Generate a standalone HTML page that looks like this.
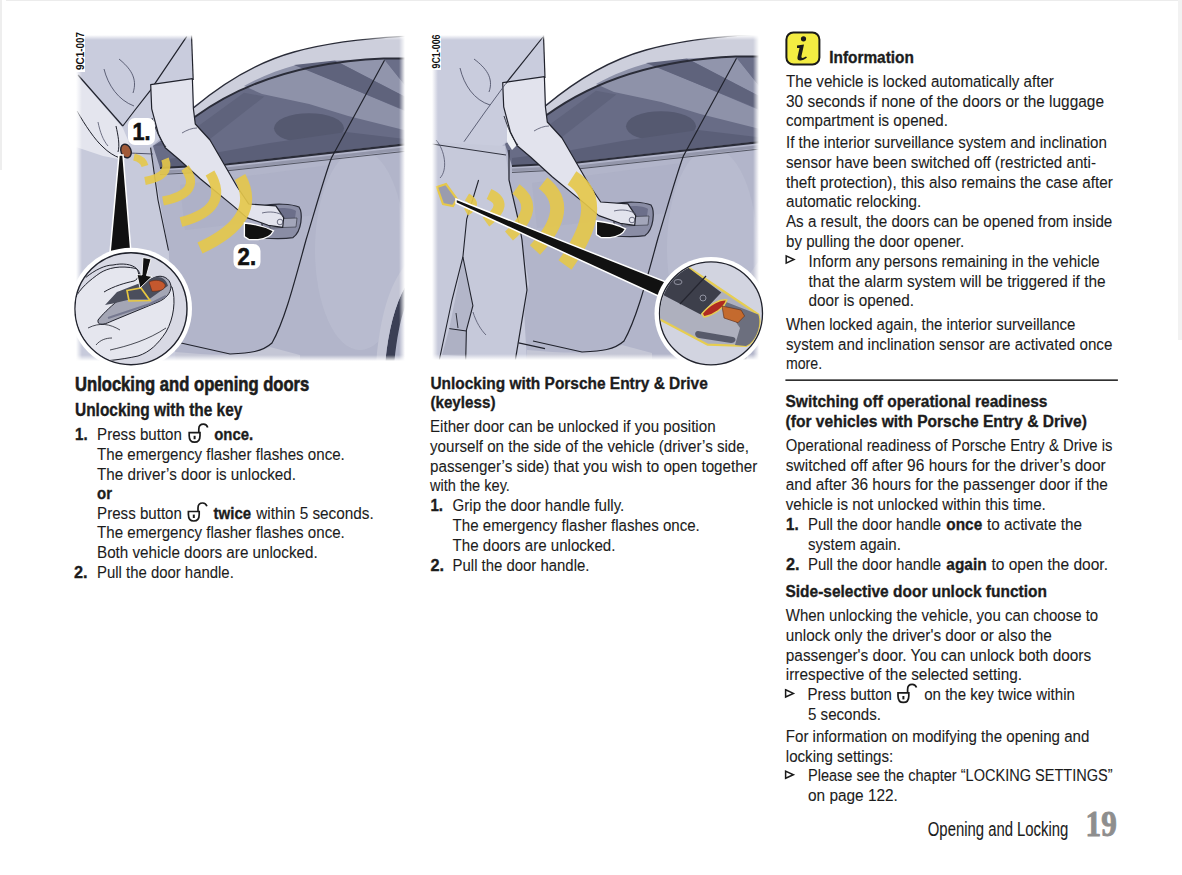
<!DOCTYPE html>
<html><head><meta charset="utf-8">
<style>
html,body{margin:0;padding:0;background:#fff;width:1182px;height:875px;overflow:hidden}
svg{position:absolute;left:0;top:0;display:block}
text{font-family:"Liberation Sans",sans-serif;fill:#1c1c1c}
.n{font-weight:400;stroke:#1c1c1c;stroke-width:0.1px}
.b{font-weight:700;stroke:#1c1c1c;stroke-width:0.35px}
.h{font-weight:700;stroke:#1c1c1c;stroke-width:0.6px}
.lbl{font-weight:700;fill:#111;stroke:#111;stroke-width:0.6px}
.lblr{font-weight:700;fill:#111}
.pg{font-family:"Liberation Serif",serif;font-weight:700;fill:#8e8e8e;stroke:#8e8e8e;stroke-width:0.9px}
</style></head>
<body>
<svg width="1182" height="875" viewBox="0 0 1182 875">
<defs>
<clipPath id="clip1"><rect x="76" y="35" width="329" height="326"/></clipPath>
<clipPath id="clip2"><rect x="432" y="35" width="327" height="325"/></clipPath>
<linearGradient id="gL" x1="0" x2="1" y1="0" y2="0"><stop offset="0" stop-color="#fff" stop-opacity="1"/><stop offset="1" stop-color="#fff" stop-opacity="0"/></linearGradient>
<linearGradient id="gR" x1="1" x2="0" y1="0" y2="0"><stop offset="0" stop-color="#fff" stop-opacity="1"/><stop offset="1" stop-color="#fff" stop-opacity="0"/></linearGradient>
<linearGradient id="gT" x1="0" x2="0" y1="0" y2="1"><stop offset="0" stop-color="#fff" stop-opacity="1"/><stop offset="1" stop-color="#fff" stop-opacity="0"/></linearGradient>
<linearGradient id="gB" x1="0" x2="0" y1="1" y2="0"><stop offset="0" stop-color="#fff" stop-opacity="1"/><stop offset="1" stop-color="#fff" stop-opacity="0"/></linearGradient>
<clipPath id="cc1"><circle cx="131" cy="308.7" r="55.3"/></clipPath>
<clipPath id="cc2"><circle cx="711" cy="313.4" r="50.8"/></clipPath>
</defs>
<rect x="0" y="0" width="2" height="170" fill="#eeeeee"/>
<rect x="6" y="0" width="1176" height="1" fill="#ececec"/>
<rect x="1178" y="0" width="4" height="340" fill="#f2f2f2"/>

<g clip-path="url(#clip1)">
  <rect x="70" y="30" width="345" height="340" fill="#c9ccdd"/>
  <path d="M191.5,30 L410,30 L410,36 C320,44 240,72 193.7,107.7 Z" fill="#ffffff"/>
  
<g transform="translate(0,0)">
  <path d="M150,148 L194,106 C240,72 320,44 408,36 L408,365 L175,365 L168.5,250 Z" fill="#b2b5ca"/>
  <ellipse cx="360" cy="250" rx="45" ry="100" fill="#bcbfd2" opacity="0.6"/>
  <path d="M180,185 L330,165 L315,215 L185,230 Z" fill="#aaaec4" opacity="0.5"/>
  <!-- sill -->
  <path d="M175,352 C220,356 250,356 270,347 L300,355 L300,365 L175,365 Z" fill="#c4c6d5"/>
  <!-- roof strip -->
  <path d="M193.7,107.7 C222,84 258,62 294,52 C330,42 370,38 408,36 L408,58.4 L383.6,58.4 C300,62 240,84 194.7,117 Z" fill="#cdcfdc"/>
  <path d="M193.7,107.7 C222,84 258,62 294,52 C330,42 370,38 408,36" fill="none" stroke="#2a2c38" stroke-width="1.3"/>
  <!-- window -->
  <path d="M153,146 L194.7,117 C240,84 300,62 383.6,58.4 L408,58.4 L408,143 L225.4,163.5 L160,168 Z" fill="#686c86"/>
  <path d="M244,86 C262,76 278,70 296,65 L405.9,111.4 L408,131 L348.2,116 L309.1,104 L262,94 Z" fill="#8e92a9"/>
  <path d="M335,60.5 L383.6,58.4 L408,89 L408,98.4 Z" fill="#9195ac"/>
  <path d="M383.6,58.4 L408,58.4 L408,89 Z" fill="#6a6e88"/>
  <path d="M294,65 L335,60.5 L408,98.4 L408,111.4 Z" fill="#5f637c"/>
  <path d="M153,146 L195.6,128 L244,92.8 L264.4,96.5 L204.9,143 Z" fill="#5f637c"/>
  <ellipse cx="309" cy="128.2" rx="35" ry="15" fill="#555970"/>
  <path d="M160,160 L208.6,154 L270,143 L346.3,131.9 L408,139.3 L408,143 L225.4,163.5 L160,168 Z" fill="#5b5f78"/>
  <path d="M194.7,117 C240,84 300,62 383.6,58.4 L408,58.4" fill="none" stroke="#2a2c38" stroke-width="2"/>
  <path d="M160,168 L225.4,164.5 L408,144" fill="none" stroke="#2a2c38" stroke-width="2.2"/>
  <path d="M160,172 L225.4,169 L408,148.5" fill="none" stroke="#9497ab" stroke-width="3"/>
  <path d="M160,174.5 L225.4,171 L408,151" fill="none" stroke="#3a3c48" stroke-width="0.8"/>
  <!-- door line -->
  <path d="M384.5,60.2 L331.4,158 C325,175 318,200 306,240 C295,280 285,320 272,343 C262,352 250,353 230,354 L181,343" fill="none" stroke="#20222c" stroke-width="1.2"/>
  <!-- door handle -->
  <path d="M262,206 C275,203 292,204 299,207 C303,213 302,231 293,237.6 C285,239 275,239 262,238 Z" fill="#8a8da5" stroke="#2a2c38" stroke-width="1.2"/>
  <path d="M272,209 C282,207 292,208 296,211 L295,218 L272,219 Z" fill="#6c6f8a"/>
  <path d="M270,219 L297,218 L296,227 L270,228 Z" fill="#a3a6ba" stroke="#3a3c48" stroke-width="0.7"/>
  <!-- wheel arch -->
  <path d="M408,282 C396,300 388,330 385,365 L394,365 C397,335 401,315 408,300 Z" fill="#3b3f55"/>
  <path d="M408,262 C390,282 380,315 376,365 L385,365 C388,330 396,300 408,282 Z" fill="#c3c5d5"/>
</g>
  <!-- body side line region lighter left -->
  <path d="M70,150 L150.6,147.7 L168.5,250.5 L176,365 L70,365 Z" fill="#c7cadb"/>
  <path d="M150.6,147.7 L158,200 L168.5,250.5" fill="none" stroke="#20222c" stroke-width="1.1"/>
  <path d="M76.4,145.2 L102,149.2 L129,153 L153,154" fill="none" stroke="#50536a" stroke-width="1"/>
  <!-- shirt lines & raised left arm -->
  <path d="M76,74 L122.8,128 L128,140 L131,153 L124,160 L103,156 L76,147 Z" fill="#e4e5ee"/>
  <path d="M78,75 L122.8,126" fill="none" stroke="#20222c" stroke-width="1.2"/>
  <path d="M186.8,36.4 L150,90.8 L135,110 L122.8,126" fill="none" stroke="#20222c" stroke-width="1.2"/>
  <path d="M191.5,35 L193.2,80" fill="none" stroke="#20222c" stroke-width="1.2"/>
  <path d="M119,59 C130,68 138,78 133,93" fill="none" stroke="#50536a" stroke-width="0.9"/>
  <path d="M104,69 C108,85 118,100 134,106" fill="none" stroke="#50536a" stroke-width="0.9"/>
  <path d="M77,111 C85,125 95,140 103,147 C108,152 114,156 120,158" fill="none" stroke="#20222c" stroke-width="1"/>
  <path d="M116,126 C118,135 120,145 118,152" fill="none" stroke="#20222c" stroke-width="1"/>
  <path d="M98,122 C100,132 103,140 108,146" fill="none" stroke="#50536a" stroke-width="0.8"/>
  
<g transform="translate(0,0)">
  <path d="M150.7,84.6 L192.4,78.7 L193.4,108.8 L195.3,124 L210,140 L223.5,163.2 L237,186.5 L248.7,204 L275.9,205.9 L283.7,217.6 L282.7,227.3 L268.2,225.3 L246.8,217.6 L233.2,205.9 L200.2,178.7 L178.8,159.3 L165.2,147.7 L158.4,134 L151.7,108.8 Z" fill="#e2e3ed" stroke="#20222c" stroke-width="1.2" stroke-linejoin="round"/>
  <path d="M152,118 C156,130 160,140 166,147" fill="none" stroke="#20222c" stroke-width="0.9"/>
  <path d="M182,133 C187,130 192,128 197,128" fill="none" stroke="#50536a" stroke-width="0.8"/>
  <path d="M262,213 C270,211 278,212 284,216" fill="none" stroke="#50536a" stroke-width="0.8"/>
  <circle cx="280" cy="222" r="2.8" fill="none" stroke="#50536a" stroke-width="0.8"/>
</g>
  <ellipse cx="126" cy="151" rx="5" ry="7" transform="rotate(-20 126 151)" fill="#a05a38" stroke="#20222c" stroke-width="1.4"/>
  <!-- yellow arcs -->
  <g fill="none" stroke="#e6c84a" stroke-linecap="butt" opacity="0.9">
    <path d="M134,157 Q143,159 145,166" stroke-width="7"/>
    <path d="M165,159 Q172,176 145,181" stroke-width="8"/>
    <path d="M185,168 Q203,193 163,201" stroke-width="9"/>
    <path d="M210,173 Q231,209 181,222" stroke-width="10"/>
    <path d="M240,177 Q263,219 200,248" stroke-width="12"/>
  </g>
  <!-- black arrow under handle -->
  <path d="M244.4,223 C254,224 266,227 273.6,230.8 C271,236 266,239 258,239.6 L249,239.6 L244.4,236.6 Z" fill="#111" stroke="#fff" stroke-width="1.3"/>
  <!-- black cone -->
  <path d="M119,155 L123,155 L131,253 L110,253 Z" fill="#111" stroke="#fff" stroke-width="1.5"/>
  <rect x="76" y="35" width="6" height="326" fill="url(#gL)"/>
  <rect x="399" y="35" width="6" height="326" fill="url(#gR)"/>
  <rect x="76" y="35" width="329" height="5" fill="url(#gT)"/>
  <rect x="76" y="355" width="329" height="6" fill="url(#gB)"/>
  <!-- labels -->
  <rect x="128" y="118" width="27" height="27" rx="7" fill="#fff"/>
  <text class="lbl" x="132.5" y="140" font-size="23" textLength="18" lengthAdjust="spacingAndGlyphs">1.</text>
  <rect x="233.5" y="244" width="27" height="25" rx="7" fill="#fff"/>
  <text class="lbl" x="237.6" y="264.8" font-size="24" textLength="18.5" lengthAdjust="spacingAndGlyphs">2.</text>
</g>
  <!-- inset circle -->
  <circle cx="131" cy="308.7" r="61" fill="#ffffff"/>
  <circle cx="131" cy="308.7" r="56" fill="#d8d9e4" stroke="#20222c" stroke-width="1.4"/>
  <g clip-path="url(#cc1)">
  <path d="M74,300 C80,288 90,280 100,273 C108,268 120,265 136.5,268.6 C140,272 141,276 139.2,279 L150,282 L172,287 C176,300 174,318 166,332 C158,344 150,352 138,356 C120,360 100,362 80,362 L74,362 Z" fill="#e5e6ee" stroke="#20222c" stroke-width="1"/>
  <path d="M85.7,277.5 C95,270 105,265 113,265 C122,263 132,264 136.5,268.6 C140,273 139,279 134,281 C125,283 114,286 104,292" fill="none" stroke="#20222c" stroke-width="1"/>
  <path d="M98,320 C106,310 125,292 154.3,277.5 C162,274 170,278 171,286 C171,294 165,299 158,302 L112,321 C104,325 97,326 98,320 Z" fill="#a4a6b5" stroke="#20222c" stroke-width="1"/>
  <path d="M105,305 L117,291.9 L154.3,277.5 C161,276 166,279 168,285.8 L148.8,299.5 L129.6,299.5 L113,303.6 Z" fill="#4b4e5c"/>
  <path d="M127,290.5 L141,288 L150,300.5 L129,301 Z" fill="none" stroke="#e8c840" stroke-width="1.7"/>
  <path d="M149,282 C155,279 163,280 165.3,285 C165,290 160,291.3 152,291.3 Z" fill="#c4582e" stroke="#5a2a18" stroke-width="0.6"/>
  <path d="M108,318 L150,304 L166,296" fill="none" stroke="#767990" stroke-width="2.2"/>
  <path d="M88,328 C100,322 110,324 120,330" fill="none" stroke="#20222c" stroke-width="0.8"/>
  <path d="M110,350 C128,346 148,340 166,328" fill="none" stroke="#20222c" stroke-width="0.8"/>
  <path d="M96,345 C100,340 106,338 112,338" fill="none" stroke="#20222c" stroke-width="0.8"/>
  <path d="M143,257.5 L151,259 L146.5,275.5 L152,276.5 L140,288 L137,274.5 L142,275 Z" fill="#111" stroke="#fff" stroke-width="0.9"/>
  </g>
<rect x="74" y="31" width="11" height="41" fill="#fff"/>
<text class="lblr" transform="translate(84,70) rotate(-90)" font-size="11.5" textLength="38" lengthAdjust="spacingAndGlyphs">9C1-007</text>


<g clip-path="url(#clip2)">
  <rect x="425" y="30" width="345" height="340" fill="#c9ccdd"/>
  <path d="M543.5,30 L765,30 L765,34 C672,42 592,70 545.7,105.7 Z" fill="#ffffff"/>
  
<g transform="translate(352,-2)">
  <path d="M150,148 L194,106 C240,72 320,44 408,36 L408,365 L175,365 L168.5,250 Z" fill="#b2b5ca"/>
  <ellipse cx="360" cy="250" rx="45" ry="100" fill="#bcbfd2" opacity="0.6"/>
  <path d="M180,185 L330,165 L315,215 L185,230 Z" fill="#aaaec4" opacity="0.5"/>
  <!-- sill -->
  <path d="M175,352 C220,356 250,356 270,347 L300,355 L300,365 L175,365 Z" fill="#c4c6d5"/>
  <!-- roof strip -->
  <path d="M193.7,107.7 C222,84 258,62 294,52 C330,42 370,38 408,36 L408,58.4 L383.6,58.4 C300,62 240,84 194.7,117 Z" fill="#cdcfdc"/>
  <path d="M193.7,107.7 C222,84 258,62 294,52 C330,42 370,38 408,36" fill="none" stroke="#2a2c38" stroke-width="1.3"/>
  <!-- window -->
  <path d="M153,146 L194.7,117 C240,84 300,62 383.6,58.4 L408,58.4 L408,143 L225.4,163.5 L160,168 Z" fill="#686c86"/>
  <path d="M244,86 C262,76 278,70 296,65 L405.9,111.4 L408,131 L348.2,116 L309.1,104 L262,94 Z" fill="#8e92a9"/>
  <path d="M335,60.5 L383.6,58.4 L408,89 L408,98.4 Z" fill="#9195ac"/>
  <path d="M383.6,58.4 L408,58.4 L408,89 Z" fill="#6a6e88"/>
  <path d="M294,65 L335,60.5 L408,98.4 L408,111.4 Z" fill="#5f637c"/>
  <path d="M153,146 L195.6,128 L244,92.8 L264.4,96.5 L204.9,143 Z" fill="#5f637c"/>
  <ellipse cx="309" cy="128.2" rx="35" ry="15" fill="#555970"/>
  <path d="M160,160 L208.6,154 L270,143 L346.3,131.9 L408,139.3 L408,143 L225.4,163.5 L160,168 Z" fill="#5b5f78"/>
  <path d="M194.7,117 C240,84 300,62 383.6,58.4 L408,58.4" fill="none" stroke="#2a2c38" stroke-width="2"/>
  <path d="M160,168 L225.4,164.5 L408,144" fill="none" stroke="#2a2c38" stroke-width="2.2"/>
  <path d="M160,172 L225.4,169 L408,148.5" fill="none" stroke="#9497ab" stroke-width="3"/>
  <path d="M160,174.5 L225.4,171 L408,151" fill="none" stroke="#3a3c48" stroke-width="0.8"/>
  <!-- door line -->
  <path d="M384.5,60.2 L331.4,158 C325,175 318,200 306,240 C295,280 285,320 272,343 C262,352 250,353 230,354 L181,343" fill="none" stroke="#20222c" stroke-width="1.2"/>
  <!-- door handle -->
  <path d="M262,206 C275,203 292,204 299,207 C303,213 302,231 293,237.6 C285,239 275,239 262,238 Z" fill="#8a8da5" stroke="#2a2c38" stroke-width="1.2"/>
  <path d="M272,209 C282,207 292,208 296,211 L295,218 L272,219 Z" fill="#6c6f8a"/>
  <path d="M270,219 L297,218 L296,227 L270,228 Z" fill="#a3a6ba" stroke="#3a3c48" stroke-width="0.7"/>
  <!-- wheel arch -->
  <path d="M408,282 C396,300 388,330 385,365 L394,365 C397,335 401,315 408,300 Z" fill="#3b3f55"/>
  <path d="M408,262 C390,282 380,315 376,365 L385,365 C388,330 396,300 408,282 Z" fill="#c3c5d5"/>
</g>
  <!-- pants -->
  <path d="M425,141.7 L505,146 L509,180 L519,223 L529,284 L516,365 L425,365 Z" fill="#c6c9da"/>
  <path d="M432,144 L506,155" fill="none" stroke="#30323e" stroke-width="1"/>
  <path d="M509,150 L509,180 L519,223 L522,240 L527,290 L515,362" fill="none" stroke="#20222c" stroke-width="1.2"/>
  <path d="M462.9,257 L472.9,305.7 L466.4,330 L449.3,328.6 L455,300 Z" fill="#b3b6c9"/>
  <path d="M449.3,328.6 L466.4,330 L465.7,356 L442,355 Z" fill="#aeb1c4"/>
  <path d="M478.6,180 L466.7,219 L462.9,257 L452,300 L439.3,360" fill="none" stroke="#20222c" stroke-width="1.1"/>
  <path d="M462.9,257 L472.9,305.7 L466.4,330 L465.7,360" fill="none" stroke="#20222c" stroke-width="1.1"/>
  <path d="M449.3,328.6 L466.4,331" fill="none" stroke="#20222c" stroke-width="1"/>
  <path d="M456,313 L458,328" fill="none" stroke="#20222c" stroke-width="0.9"/>
  <path d="M473,312 C476,322 481,330 486,335" fill="none" stroke="#50536a" stroke-width="0.8"/>
  <path d="M518.6,342.9 L545,348.6" fill="none" stroke="#20222c" stroke-width="1.1"/>
  <path d="M436,140 C445,150 448,170 440,178" fill="none" stroke="#50536a" stroke-width="0.8"/>
  <!-- gap between arm and body -->
  
  <path d="M507,100 L514,128 L521,141 L512,150 L507,142 Z" fill="#eef0f5"/>
  
<g transform="translate(352,-2)">
  <path d="M150.7,84.6 L192.4,78.7 L193.4,108.8 L195.3,124 L210,140 L223.5,163.2 L237,186.5 L248.7,204 L275.9,205.9 L283.7,217.6 L282.7,227.3 L268.2,225.3 L246.8,217.6 L233.2,205.9 L200.2,178.7 L178.8,159.3 L165.2,147.7 L158.4,134 L151.7,108.8 Z" fill="#e2e3ed" stroke="#20222c" stroke-width="1.2" stroke-linejoin="round"/>
  <path d="M152,118 C156,130 160,140 166,147" fill="none" stroke="#20222c" stroke-width="0.9"/>
  <path d="M182,133 C187,130 192,128 197,128" fill="none" stroke="#50536a" stroke-width="0.8"/>
  <path d="M262,213 C270,211 278,212 284,216" fill="none" stroke="#50536a" stroke-width="0.8"/>
  <circle cx="280" cy="222" r="2.8" fill="none" stroke="#50536a" stroke-width="0.8"/>
</g>
  <!-- shirt lines -->
  <path d="M543,37 L506,83.3" fill="none" stroke="#20222c" stroke-width="1.2"/>
  <path d="M506,83.3 L485,112 L464,141.7" fill="none" stroke="#50536a" stroke-width="0.9"/>
  <path d="M543.5,35 L545,78" fill="none" stroke="#20222c" stroke-width="1.2"/>
  <path d="M474,59 C486,68 494,78 489,92" fill="none" stroke="#50536a" stroke-width="0.9"/>
  <path d="M460,68 C464,85 474,100 490,105" fill="none" stroke="#50536a" stroke-width="0.9"/>
  <!-- arcs -->
  <g fill="none" stroke="#e6c84a" opacity="0.9">
    <path d="M467,197 Q479.5,204.5 466,212" stroke-width="8"/>
    <path d="M489,194 Q510.5,204 486,222" stroke-width="11"/>
    <path d="M516,189 Q541.5,207.5 509,236" stroke-width="12"/>
    <path d="M543,183 Q575,207.5 535,250" stroke-width="14"/>
    <path d="M572,178 Q609.5,202.5 565,265" stroke-width="16"/>
  </g>
  <path d="M596.4,221 C606,222 618,225 625.6,228.8 C623,234 618,237 610,237.6 L601,237.6 L596.4,234.6 Z" fill="#111" stroke="#fff" stroke-width="1.3"/>
  <!-- key in pocket -->
  <path d="M437,187 L446,184 L457,199 L453,206 L443,204 Z" fill="#9a9cae" stroke="#e6c84a" stroke-width="2.2"/>
  <!-- black band -->
  <path d="M456,199 L666,282 L667,300 L456,203 Z" fill="#111" stroke="#fff" stroke-width="1.5"/>
  <rect x="432" y="35" width="6" height="325" fill="url(#gL)"/>
  <rect x="753" y="35" width="6" height="325" fill="url(#gR)"/>
  <rect x="432" y="35" width="327" height="5" fill="url(#gT)"/>
  <rect x="432" y="354" width="327" height="6" fill="url(#gB)"/>
</g>
  <!-- circle -->
  <circle cx="711" cy="313.4" r="56.5" fill="#fff"/>
  <circle cx="711" cy="313.4" r="51.5" fill="#d2d4e0" stroke="#20222c" stroke-width="1.3"/>
  <g clip-path="url(#cc2)">
  <path d="M650,290 L687,266.5 L758.3,314.5 C762,325 756,342 746,346 L707.6,344.6 L661,320 L650,315 Z" fill="#aeb0be" stroke="#e6cd50" stroke-width="2.2"/>
  <path d="M721,300 L758.3,314.5 C762,325 756,342 746,346 L735,345 L740,328 Z" fill="#6c6f7e"/>
  <path d="M650,292 L666.5,277.4 L688.4,267.8 L721.3,292.5 L700.7,314.5 L663.7,295.3 Z" fill="#3d3f4b"/>
  <path d="M680,304 L706,276" fill="none" stroke="#252630" stroke-width="1.2"/>
  <ellipse cx="678" cy="282" rx="4" ry="2.5" fill="none" stroke="#9a9caa" stroke-width="0.9"/>
  <circle cx="703" cy="298" r="3" fill="none" stroke="#9a9caa" stroke-width="0.9"/>
  <path d="M702,313.7 C710,304 720,299 726.8,300 C724,308 714,315 704,317 Z" fill="#b02a20" stroke="#e6cd50" stroke-width="1.5"/>
  <path d="M722,306 L741,310 L744.6,316 L738,322.7 L724,318 Z" fill="#c46a2e" stroke="#5a2a18" stroke-width="0.6"/>
  <path d="M698,331 L733,337 C737,338 736,343 731,343 L699,338 C694,337 694,331 698,331 Z" fill="#575a6a"/>
  </g>
<rect x="429" y="31" width="12" height="39" fill="#fff"/>
<text class="lblr" transform="translate(439.5,68.5) rotate(-90)" font-size="11.5" textLength="34" lengthAdjust="spacingAndGlyphs">9C1-006</text>


<rect x="786.4" y="32.5" width="33" height="32" rx="7" fill="#f3ec42" stroke="#1a1a1a" stroke-width="2"/>
<circle cx="803.5" cy="38.8" r="2.6" fill="#1a1a1a"/>
<path d="M797,45.5 L804,44.5 L801.5,56 C801,58.5 803,58.5 806,56.5 L807,57.5 C803,61 796.5,62 797.5,57 L799.5,48 L797,48 Z" fill="#1a1a1a"/>

<text class="h" x="75.0" y="390.7" font-size="19.9" textLength="234.3" lengthAdjust="spacingAndGlyphs">Unlocking and opening doors</text>
<text class="b" x="75.0" y="415.8" font-size="17.6" textLength="167.4" lengthAdjust="spacingAndGlyphs">Unlocking with the key</text>
<text class="b" x="75.0" y="440.0" font-size="17.4" textLength="12.6" lengthAdjust="spacingAndGlyphs">1.</text>
<text class="n" x="97.1" y="440.0" font-size="17.4" textLength="84.8" lengthAdjust="spacingAndGlyphs">Press button</text>
<text class="b" x="214.2" y="440.0" font-size="17.4" textLength="38.9" lengthAdjust="spacingAndGlyphs">once.</text>
<text class="n" x="97.0" y="459.8" font-size="17.4" textLength="247.8" lengthAdjust="spacingAndGlyphs">The emergency flasher flashes once.</text>
<text class="n" x="97.0" y="479.6" font-size="17.4" textLength="199.0" lengthAdjust="spacingAndGlyphs">The driver’s door is unlocked.</text>
<text class="b" x="97.0" y="498.5" font-size="17.4" textLength="15.0" lengthAdjust="spacingAndGlyphs">or</text>
<text class="n" x="97.1" y="518.8" font-size="17.4" textLength="84.8" lengthAdjust="spacingAndGlyphs">Press button</text>
<text class="b" x="213.6" y="518.8" font-size="17.4" textLength="37.6" lengthAdjust="spacingAndGlyphs">twice</text>
<text class="n" x="256.2" y="518.8" font-size="17.4" textLength="117.6" lengthAdjust="spacingAndGlyphs">within 5 seconds.</text>
<text class="n" x="97.0" y="538.3" font-size="17.4" textLength="247.8" lengthAdjust="spacingAndGlyphs">The emergency flasher flashes once.</text>
<text class="n" x="97.0" y="558.0" font-size="17.4" textLength="220.7" lengthAdjust="spacingAndGlyphs">Both vehicle doors are unlocked.</text>
<text class="b" x="74.0" y="577.8" font-size="17.4" textLength="13.6" lengthAdjust="spacingAndGlyphs">2.</text>
<text class="n" x="97.0" y="577.8" font-size="17.4" textLength="136.8" lengthAdjust="spacingAndGlyphs">Pull the door handle.</text>
<text class="b" x="430.4" y="388.7" font-size="17.4" textLength="277.4" lengthAdjust="spacingAndGlyphs">Unlocking with Porsche Entry &amp; Drive</text>
<text class="b" x="430.4" y="408.0" font-size="17.4" textLength="65.1" lengthAdjust="spacingAndGlyphs">(keyless)</text>
<text class="n" x="430.0" y="432.4" font-size="17.4" textLength="285.6" lengthAdjust="spacingAndGlyphs">Either door can be unlocked if you position</text>
<text class="n" x="430.0" y="451.8" font-size="17.4" textLength="318.9" lengthAdjust="spacingAndGlyphs">yourself on the side of the vehicle (driver’s side,</text>
<text class="n" x="430.0" y="471.5" font-size="17.4" textLength="327.2" lengthAdjust="spacingAndGlyphs">passenger’s side) that you wish to open together</text>
<text class="n" x="430.0" y="491.3" font-size="17.4" textLength="79.9" lengthAdjust="spacingAndGlyphs">with the key.</text>
<text class="b" x="430.4" y="511.0" font-size="17.4" textLength="12.6" lengthAdjust="spacingAndGlyphs">1.</text>
<text class="n" x="452.6" y="511.0" font-size="17.4" textLength="171.7" lengthAdjust="spacingAndGlyphs">Grip the door handle fully.</text>
<text class="n" x="452.6" y="531.0" font-size="17.4" textLength="247.2" lengthAdjust="spacingAndGlyphs">The emergency flasher flashes once.</text>
<text class="n" x="452.6" y="550.8" font-size="17.4" textLength="162.8" lengthAdjust="spacingAndGlyphs">The doors are unlocked.</text>
<text class="b" x="430.4" y="570.5" font-size="17.4" textLength="13.6" lengthAdjust="spacingAndGlyphs">2.</text>
<text class="n" x="452.6" y="570.5" font-size="17.4" textLength="136.8" lengthAdjust="spacingAndGlyphs">Pull the door handle.</text>
<text class="b" x="829.2" y="62.7" font-size="17.4" textLength="84.7" lengthAdjust="spacingAndGlyphs">Information</text>
<text class="n" x="786.0" y="86.8" font-size="17.4" textLength="267.9" lengthAdjust="spacingAndGlyphs">The vehicle is locked automatically after</text>
<text class="n" x="786.0" y="106.6" font-size="17.4" textLength="318.0" lengthAdjust="spacingAndGlyphs">30 seconds if none of the doors or the luggage</text>
<text class="n" x="786.0" y="125.9" font-size="17.4" textLength="161.9" lengthAdjust="spacingAndGlyphs">compartment is opened.</text>
<text class="n" x="786.0" y="147.8" font-size="17.4" textLength="320.9" lengthAdjust="spacingAndGlyphs">If the interior surveillance system and inclination</text>
<text class="n" x="786.0" y="167.6" font-size="17.4" textLength="310.0" lengthAdjust="spacingAndGlyphs">sensor have been switched off (restricted anti-</text>
<text class="n" x="786.0" y="187.5" font-size="17.4" textLength="326.9" lengthAdjust="spacingAndGlyphs">theft protection), this also remains the case after</text>
<text class="n" x="786.0" y="207.3" font-size="17.4" textLength="135.3" lengthAdjust="spacingAndGlyphs">automatic relocking.</text>
<text class="n" x="786.0" y="227.0" font-size="17.4" textLength="326.3" lengthAdjust="spacingAndGlyphs">As a result, the doors can be opened from inside</text>
<text class="n" x="786.0" y="246.5" font-size="17.4" textLength="178.2" lengthAdjust="spacingAndGlyphs">by pulling the door opener.</text>
<text class="n" x="808.6" y="266.8" font-size="17.4" textLength="291.1" lengthAdjust="spacingAndGlyphs">Inform any persons remaining in the vehicle</text>
<text class="n" x="808.6" y="286.6" font-size="17.4" textLength="297.0" lengthAdjust="spacingAndGlyphs">that the alarm system will be triggered if the</text>
<text class="n" x="808.6" y="305.8" font-size="17.4" textLength="105.4" lengthAdjust="spacingAndGlyphs">door is opened.</text>
<text class="n" x="786.0" y="329.8" font-size="17.4" textLength="289.3" lengthAdjust="spacingAndGlyphs">When locked again, the interior surveillance</text>
<text class="n" x="786.0" y="349.6" font-size="17.4" textLength="326.3" lengthAdjust="spacingAndGlyphs">system and inclination sensor are activated once</text>
<text class="n" x="786.0" y="369.2" font-size="17.4" textLength="36.1" lengthAdjust="spacingAndGlyphs">more.</text>
<text class="b" x="785.5" y="407.3" font-size="17.4" textLength="262.0" lengthAdjust="spacingAndGlyphs">Switching off operational readiness</text>
<text class="b" x="785.5" y="426.5" font-size="17.4" textLength="301.4" lengthAdjust="spacingAndGlyphs">(for vehicles with Porsche Entry &amp; Drive)</text>
<text class="n" x="785.8" y="450.6" font-size="17.4" textLength="326.6" lengthAdjust="spacingAndGlyphs">Operational readiness of Porsche Entry &amp; Drive is</text>
<text class="n" x="785.8" y="470.6" font-size="17.4" textLength="320.0" lengthAdjust="spacingAndGlyphs">switched off after 96 hours for the driver’s door</text>
<text class="n" x="785.8" y="490.3" font-size="17.4" textLength="322.1" lengthAdjust="spacingAndGlyphs">and after 36 hours for the passenger door if the</text>
<text class="n" x="785.8" y="510.2" font-size="17.4" textLength="260.0" lengthAdjust="spacingAndGlyphs">vehicle is not unlocked within this time.</text>
<text class="b" x="786.0" y="530.1" font-size="17.4" textLength="12.6" lengthAdjust="spacingAndGlyphs">1.</text>
<text class="n" x="807.9" y="530.1" font-size="17.4" textLength="133.2" lengthAdjust="spacingAndGlyphs">Pull the door handle</text>
<text class="b" x="946.3" y="530.1" font-size="17.4" textLength="35.9" lengthAdjust="spacingAndGlyphs">once</text>
<text class="n" x="987.1" y="530.1" font-size="17.4" textLength="94.9" lengthAdjust="spacingAndGlyphs">to activate the</text>
<text class="n" x="808.0" y="549.6" font-size="17.4" textLength="92.9" lengthAdjust="spacingAndGlyphs">system again.</text>
<text class="b" x="786.0" y="569.5" font-size="17.4" textLength="13.6" lengthAdjust="spacingAndGlyphs">2.</text>
<text class="n" x="807.9" y="569.5" font-size="17.4" textLength="133.2" lengthAdjust="spacingAndGlyphs">Pull the door handle</text>
<text class="b" x="946.3" y="569.5" font-size="17.4" textLength="40.3" lengthAdjust="spacingAndGlyphs">again</text>
<text class="n" x="991.4" y="569.5" font-size="17.4" textLength="116.6" lengthAdjust="spacingAndGlyphs">to open the door.</text>
<text class="b" x="785.5" y="596.6" font-size="17.4" textLength="261.4" lengthAdjust="spacingAndGlyphs">Side-selective door unlock function</text>
<text class="n" x="785.8" y="620.9" font-size="17.4" textLength="312.4" lengthAdjust="spacingAndGlyphs">When unlocking the vehicle, you can choose to</text>
<text class="n" x="785.8" y="641.0" font-size="17.4" textLength="265.9" lengthAdjust="spacingAndGlyphs">unlock only the driver's door or also the</text>
<text class="n" x="785.8" y="660.6" font-size="17.4" textLength="305.3" lengthAdjust="spacingAndGlyphs">passenger's door. You can unlock both doors</text>
<text class="n" x="785.8" y="680.3" font-size="17.4" textLength="236.3" lengthAdjust="spacingAndGlyphs">irrespective of the selected setting.</text>
<text class="n" x="807.6" y="700.3" font-size="17.4" textLength="84.3" lengthAdjust="spacingAndGlyphs">Press button</text>
<text class="n" x="924.2" y="700.3" font-size="17.4" textLength="150.7" lengthAdjust="spacingAndGlyphs">on the key twice within</text>
<text class="n" x="808.0" y="719.8" font-size="17.4" textLength="73.0" lengthAdjust="spacingAndGlyphs">5 seconds.</text>
<text class="n" x="785.8" y="741.7" font-size="17.4" textLength="303.5" lengthAdjust="spacingAndGlyphs">For information on modifying the opening and</text>
<text class="n" x="785.8" y="761.8" font-size="17.4" textLength="107.4" lengthAdjust="spacingAndGlyphs">locking settings:</text>
<text class="n" x="808.0" y="781.0" font-size="17.4" textLength="304.6" lengthAdjust="spacingAndGlyphs">Please see the chapter “LOCKING SETTINGS”</text>
<text class="n" x="808.0" y="800.8" font-size="17.4" textLength="89.9" lengthAdjust="spacingAndGlyphs">on page 122.</text>
<text class="n" x="927.8" y="836.2" font-size="19.5" textLength="140.5" lengthAdjust="spacingAndGlyphs">Opening and Locking</text>
<g transform="translate(188.5,432.2)" fill="none" stroke="#1a1a1a" stroke-width="1.7">
<path d="M0.7,0.5 H11.5 V3.5 C11.5,8 9,10 6.1,10 C3,10 0.7,8 0.7,3.5 Z"/>
<path d="M10.3,0.5 V-3 C10.3,-6.5 12.5,-8 15,-8 C17,-8 18.5,-7 19.2,-4.8"/>
<path d="M6.1,3.6 V7" stroke-width="2"/>
</g>
<g transform="translate(187.7,511.0)" fill="none" stroke="#1a1a1a" stroke-width="1.7">
<path d="M0.7,0.5 H11.5 V3.5 C11.5,8 9,10 6.1,10 C3,10 0.7,8 0.7,3.5 Z"/>
<path d="M10.3,0.5 V-3 C10.3,-6.5 12.5,-8 15,-8 C17,-8 18.5,-7 19.2,-4.8"/>
<path d="M6.1,3.6 V7" stroke-width="2"/>
</g>
<g transform="translate(897.3,692.4)" fill="none" stroke="#1a1a1a" stroke-width="1.7">
<path d="M0.7,0.5 H11.5 V3.5 C11.5,8 9,10 6.1,10 C3,10 0.7,8 0.7,3.5 Z"/>
<path d="M10.3,0.5 V-3 C10.3,-6.5 12.5,-8 15,-8 C17,-8 18.5,-7 19.2,-4.8"/>
<path d="M6.1,3.6 V7" stroke-width="2"/>
</g>
<path d="M786.1999999999999,255.9 L794.0,259.5 L786.1999999999999,263.1 Z" fill="none" stroke="#1a1a1a" stroke-width="1.5" stroke-linejoin="miter"/>
<path d="M785.5999999999999,689.8 L793.4,693.4 L785.5999999999999,697.0 Z" fill="none" stroke="#1a1a1a" stroke-width="1.5" stroke-linejoin="miter"/>
<path d="M785.5999999999999,771.0999999999999 L793.4,774.6999999999999 L785.5999999999999,778.3 Z" fill="none" stroke="#1a1a1a" stroke-width="1.5" stroke-linejoin="miter"/>
<rect x="785.4" y="379.4" width="332.5" height="1.5" fill="#1a1a1a"/>
<text class="pg" x="1085.6" y="836.2" font-size="35" textLength="31.2" lengthAdjust="spacingAndGlyphs">19</text>
</svg>
</body></html>
